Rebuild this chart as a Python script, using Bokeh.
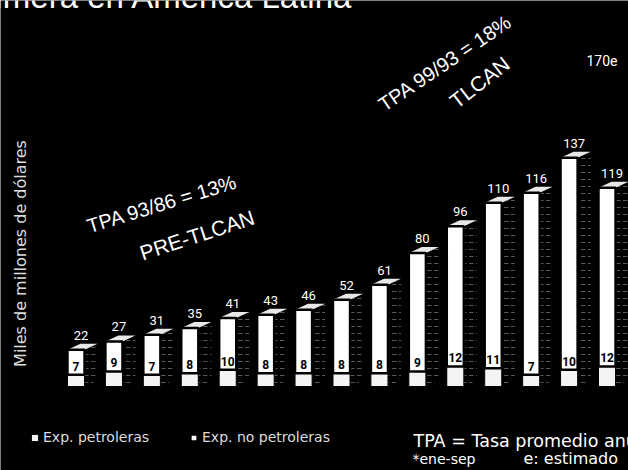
from bokeh.plotting import figure
from bokeh.models import ColumnDataSource, Label, Legend, LegendItem, Range1d
from bokeh.core.properties import value
from bokeh.embed import file_html
from bokeh.resources import INLINE

# Exportaciones de México, miles de millones de dólares
periodos = ["1986", "1987", "1988", "1989", "1990", "1991", "1992", "1993",
            "1994", "1995", "1996", "1997", "1998", "1999", "2000*"]
total = [22, 27, 31, 35, 41, 43, 46, 52, 61, 80, 96, 110, 116, 137, 119]
petroleras = [7, 9, 7, 8, 10, 8, 8, 8, 8, 9, 12, 11, 7, 10, 12]
no_petroleras = [t - o for t, o in zip(total, petroleras)]

W, H = 628, 470
X0, PITCH = 75.5, 37.93      # pixel centre of first bar, bar spacing
Y0, SCALE = 386.0, 1.67      # baseline pixel, pixels per unit

def px(sx, sy):
    """Pixel position on the page -> data coordinates."""
    return (sx - X0) / PITCH, (Y0 - sy) / SCALE

x_lo, y_hi = px(0, 0)
x_hi, y_lo = px(W, H)

p = figure(width=W, height=H, output_backend="svg", toolbar_location=None,
           x_range=Range1d(x_lo, x_hi), y_range=Range1d(y_lo, y_hi),
           x_axis_location=None, y_axis_location=None, min_border=0,
           background_fill_color="black", border_fill_color="black",
           outline_line_color=None)
p.grid.visible = False

idx = list(range(len(total)))
BW = 0.45                          # front face width
DX, DY = 13 / PITCH, 6 / SCALE     # depth of the 3D faces

src = ColumnDataSource(dict(x=idx, total=total, oil=petroleras, non=no_petroleras,
                            total_txt=[str(v) for v in total],
                            oil_txt=[str(v) for v in petroleras],
                            top_lab_x=[i + 5 / PITCH for i in idx],
                            top_lab_y=[t + 10 / SCALE for t in total],
                            oil_lab_y=[o + 4 / SCALE for o in petroleras]))

# side and top faces of each bar
side_xs, side_ys, cap_xs, cap_ys = [], [], [], []
for i, t in zip(idx, total):
    r = i + BW / 2
    side_xs.append([r, r + DX, r + DX, r])
    side_ys.append([0, DY, t + DY, t])
    cap_xs.append([i - BW / 2, r, r + DX, i - BW / 2 + DX])
    cap_ys.append([t, t, t + DY, t + DY])

p.patches(side_xs, side_ys, fill_color="black", line_color=None,
          hatch_pattern="horizontal_dash", hatch_color="white",
          hatch_alpha=0.35, hatch_scale=7, hatch_weight=1)
p.patches(cap_xs, cap_ys, fill_color="#e8e8e8", line_color=None)

r_oil = p.vbar(x="x", width=BW, bottom=0, top="oil", source=src,
               fill_color="#f4f4f4", line_color="black", line_width=1)
r_non = p.vbar(x="x", width=BW, bottom="oil", top="total", source=src,
               fill_color="white", line_color="black", line_width=2.5)

# values
p.text(x="top_lab_x", y="top_lab_y", text="total_txt", source=src,
       text_align="center", text_baseline="bottom", text_color="white",
       text_font=value("Roboto"), text_font_size="13px")
p.text(x="x", y="oil_lab_y", text="oil_txt", source=src,
       text_align="center", text_baseline="bottom", text_color="black",
       text_font=value("Roboto"), text_font_size="12px", text_font_style="bold")

def add_text(txt, sx, sy, size, angle=0, align="left", baseline="alphabetic",
             font="Liberation Sans", color="white"):
    x, y = px(sx, sy)
    p.add_layout(Label(x=x, y=y, text=txt, angle=angle, angle_units="deg",
                       text_align=align, text_baseline=baseline,
                       text_color=color, text_font=font,
                       text_font_size=f"{size}px"))

add_text("Primera en América Latina", -38, -4, 33)
add_text("Miles de millones de dólares", 20, 253, 16, angle=90,
         align="center", font="DejaVu Sans", color="#dddddd")
add_text("TPA 93/86 = 13%", 87, 226, 20, angle=17)
add_text("PRE-TLCAN", 140, 253, 21, angle=18)
add_text("TPA 99/93 = 18%", 380, 106, 20, angle=34)
add_text("TLCAN", 452, 103, 21, angle=38)
add_text("170e", 586, 60, 14, font="Roboto")
add_text("TPA = Tasa promedio anual", 413, 440, 17.5, font="DejaVu Sans")
add_text("*ene-sep", 412, 458, 14, font="DejaVu Sans")
add_text("e: estimado", 523, 458, 16, font="DejaVu Sans")

legend = Legend(items=[LegendItem(label="Exp. petroleras", renderers=[r_oil]),
                       LegendItem(label="Exp. no petroleras", renderers=[r_non])],
                orientation="horizontal", location=(30, 25),
                background_fill_alpha=0, border_line_alpha=0,
                label_text_color="#dddddd", label_text_font="DejaVu Sans",
                label_text_font_size="14px", glyph_width=9, glyph_height=9,
                label_standoff=4, label_width=140, spacing=6, padding=0,
                margin=0, label_height=14)
p.add_layout(legend)

open("out.html", "w").write(file_html(p, INLINE))
